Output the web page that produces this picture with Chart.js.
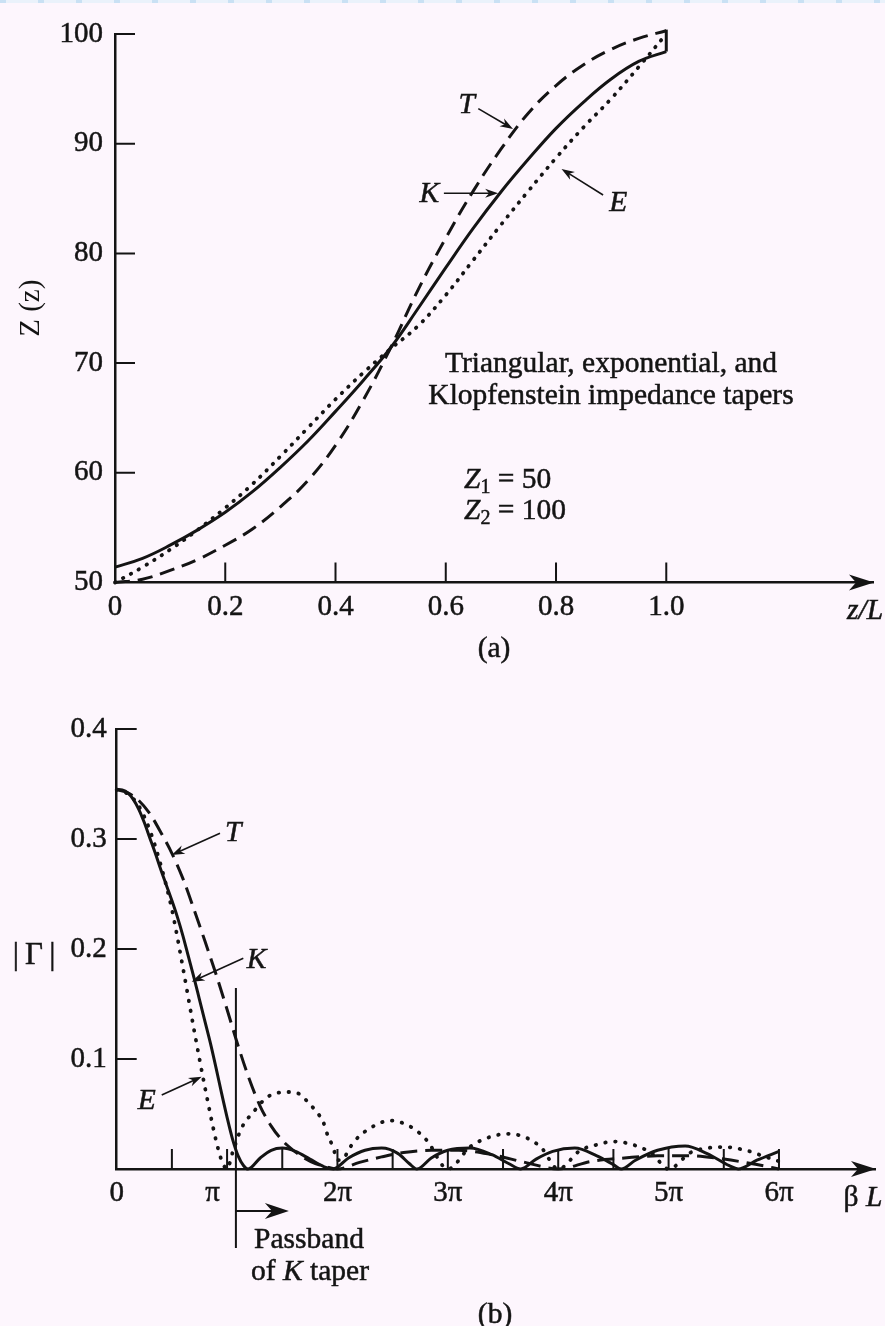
<!DOCTYPE html>
<html><head><meta charset="utf-8">
<script src="https://cdn.jsdelivr.net/npm/chart.js@4.4.0/dist/chart.umd.min.js"></script>
<style>
html,body{margin:0;padding:0;background:#fdf6fd;}
body{width:885px;height:1326px;position:relative;overflow:hidden;}
#topbar{position:absolute;left:0;top:0;width:885px;height:3px;background:repeating-linear-gradient(90deg,#c9e1f4 0 6px,#eaf2fb 6px 38px);}
#c1{position:absolute;left:0;top:0;}
#c2{position:absolute;left:0;top:690px;}
</style></head><body>
<div id="topbar"></div>
<canvas id="c1" width="885" height="690"></canvas>
<canvas id="c2" width="885" height="636"></canvas>
<script>
// ---------- (a) impedance tapers: Z(z) versus z/L ----------
const aKz   = [0, 0.05, 0.1, 0.15, 0.2, 0.25, 0.3, 0.35, 0.4, 0.45, 0.5, 0.55, 0.6, 0.65, 0.7, 0.75, 0.8, 0.85, 0.9, 0.95, 1.0];
const aKval = [51.4, 52.2, 53.4, 54.8, 56.4, 58.3, 60.5, 62.9, 65.6, 68.4, 71.4, 75.0, 78.7, 82.3, 85.6, 88.6, 91.4, 93.8, 95.9, 97.5, 98.4];
const aTz   = [0, 0.05, 0.1, 0.15, 0.2, 0.25, 0.3, 0.35, 0.4, 0.45, 0.5, 0.55, 0.6, 0.65, 0.7, 0.75, 0.8, 0.85, 0.9, 0.95, 1.0];
const aTval = [50.0, 50.3, 51.1, 52.1, 53.4, 54.9, 56.9, 59.3, 62.5, 66.6, 71.4, 76.7, 81.4, 85.7, 89.5, 92.8, 95.3, 97.2, 98.6, 99.6, 100.3];
const aEz   = [0, 0.05, 0.1, 0.15, 0.2, 0.25, 0.3, 0.35, 0.4, 0.45, 0.5, 0.55, 0.6, 0.65, 0.7, 0.75, 0.8, 0.85, 0.9, 0.95, 1.0];
const aEval = [50.0, 51.4, 53.0, 54.8, 56.8, 59.0, 61.5, 64.1, 66.7, 69.1, 71.3, 73.4, 76.2, 79.4, 82.6, 85.7, 88.7, 91.5, 94.1, 97.0, 100.0];
const aKstepZ   = [1.0, 1.0];
const aKstepVal = [98.4, 100.4];
const aXticks  = [0, 0.2, 0.4, 0.6, 0.8, 1.0];
const aXlabels = ['0', '0.2', '0.4', '0.6', '0.8', '1.0'];
const aYticks  = [50, 60, 70, 80, 90, 100];
const aYlabels = ['50', '60', '70', '80', '90', '100'];

// ---------- (b) |Gamma| versus beta*L (in units of pi) ----------
const bKx   = [0, 0.05, 0.1, 0.15, 0.2, 0.25, 0.3, 0.35, 0.4, 0.45, 0.5, 0.55, 0.6, 0.65, 0.7, 0.75, 0.8, 0.85, 0.9, 0.95, 1.0, 1.05, 1.1, 1.15, 1.19, 1.3, 1.4, 1.5, 1.62, 1.75, 1.88, 1.96, 2.1, 2.25, 2.4, 2.55, 2.65, 2.72, 2.85, 3.0, 3.2, 3.4, 3.55, 3.66, 3.8, 3.95, 4.15, 4.35, 4.5, 4.57, 4.7, 4.9, 5.15, 5.35, 5.55, 5.63, 5.8, 6.0];
const bKval = [0.345, 0.3445, 0.342, 0.336, 0.327, 0.315, 0.301, 0.287, 0.272, 0.258, 0.244, 0.229, 0.212, 0.193, 0.174, 0.154, 0.134, 0.114, 0.092, 0.069, 0.047, 0.027, 0.012, 0.003, 0.0, 0.010, 0.017, 0.019, 0.016, 0.009, 0.002, 0.0, 0.010, 0.017, 0.019, 0.014, 0.005, 0.0, 0.010, 0.017, 0.019, 0.013, 0.005, 0.0, 0.009, 0.016, 0.019, 0.012, 0.004, 0.0, 0.008, 0.017, 0.021, 0.014, 0.003, 0.0, 0.008, 0.016];
const bTx   = [0, 0.1, 0.2, 0.3, 0.4, 0.5, 0.6, 0.7, 0.8, 0.9, 1.0, 1.1, 1.2, 1.3, 1.4, 1.5, 1.6, 1.7, 1.8, 1.9, 2.0, 2.2, 2.4, 2.6, 2.85, 3.1, 3.4, 3.7, 4.0, 4.3, 4.6, 4.9, 5.2, 5.5, 5.8, 6.0];
const bTval = [0.345, 0.342, 0.335, 0.323, 0.306, 0.287, 0.264, 0.236, 0.207, 0.177, 0.145, 0.112, 0.082, 0.057, 0.039, 0.026, 0.017, 0.010, 0.005, 0.002, 0.0, 0.006, 0.011, 0.015, 0.017, 0.017, 0.013, 0.006, 0.0, 0.007, 0.010, 0.012, 0.012, 0.009, 0.004, 0.0];
const bEx   = [0, 0.1, 0.2, 0.3, 0.4, 0.5, 0.6, 0.7, 0.8, 0.9, 0.95, 1.0, 1.05, 1.13, 1.24, 1.36, 1.45, 1.55, 1.66, 1.73, 1.81, 1.87, 1.91, 1.96, 2.0, 2.05, 2.11, 2.16, 2.31, 2.48, 2.67, 2.81, 3.0, 3.2, 3.35, 3.54, 3.72, 3.85, 4.0, 4.2, 4.35, 4.5, 4.68, 4.85, 5.0, 5.2, 5.35, 5.5, 5.7, 5.85, 6.0];
const bEval = [0.345, 0.341, 0.330, 0.308, 0.276, 0.236, 0.183, 0.127, 0.074, 0.026, 0.008, 0.0, 0.015, 0.037, 0.052, 0.065, 0.069, 0.070, 0.068, 0.061, 0.052, 0.043, 0.031, 0.020, 0.008, 0.009, 0.019, 0.026, 0.038, 0.044, 0.038, 0.026, 0.0, 0.020, 0.028, 0.032, 0.028, 0.019, 0.0, 0.017, 0.022, 0.025, 0.022, 0.014, 0.0, 0.015, 0.019, 0.020, 0.017, 0.012, 0.007];
const bXticks  = [0, 1, 2, 3, 4, 5, 6];
const bXlabels = ['0', 'π\u2003', '2π', '3π', '4π', '5π', '6π'];
const bXminor  = [0.5, 1, 1.5, 2, 2.5, 3, 3.5, 4, 4.5, 5, 5.5, 6];
const bYticks  = [0, 0.1, 0.2, 0.3, 0.4];
const bYlabels = ['', '0.1', '0.2', '0.3', '0.4'];
const bPassband = 1.08;

const INK = '#141414';
const FONT = '"Liberation Serif", "Times New Roman", serif';
const TXT = 29.5;
const xy = (xs, ys) => xs.map((x, i) => ({x: x, y: ys[i]}));

function setFont(ctx, size, italic) { ctx.font = (italic ? 'italic ' : '') + size + 'px ' + FONT; }
function runs(ctx, parts, x, y, align, size) {
  const big = size || TXT, small = Math.round(big * 0.68);
  let total = 0;
  parts.forEach(p => { setFont(ctx, p.sub ? small : big, p.it); p.w = ctx.measureText(p.t).width; total += p.w; });
  let cx = align === 'left' ? x : x - total / 2;
  ctx.textAlign = 'left'; ctx.textBaseline = 'middle'; ctx.fillStyle = INK; ctx.strokeStyle = INK; ctx.lineWidth = 0.5;
  parts.forEach(p => {
    setFont(ctx, p.sub ? small : big, p.it);
    const yy = y + (p.sub ? 8 : 0);
    ctx.fillText(p.t, cx, yy); ctx.strokeText(p.t, cx, yy); cx += p.w;
  });
}
function arrow(ctx, x1, y1, x2, y2, len, hw, lw) {
  const ang = Math.atan2(y2 - y1, x2 - x1);
  ctx.save(); ctx.strokeStyle = INK; ctx.fillStyle = INK; ctx.lineWidth = lw;
  ctx.beginPath(); ctx.moveTo(x1, y1);
  ctx.lineTo(x2 - Math.cos(ang) * len * 0.6, y2 - Math.sin(ang) * len * 0.6); ctx.stroke();
  ctx.translate(x2, y2); ctx.rotate(ang);
  ctx.beginPath(); ctx.moveTo(0, 0); ctx.lineTo(-len, -hw); ctx.lineTo(-len * 0.7, 0); ctx.lineTo(-len, hw); ctx.closePath(); ctx.fill();
  ctx.restore();
}
function inwardTicks(chart, xv, yv, len) {
  const {ctx, chartArea: a, scales: {x, y}} = chart;
  ctx.save(); ctx.strokeStyle = INK; ctx.lineWidth = 2; ctx.beginPath();
  xv.forEach(v => { const p = x.getPixelForValue(v); ctx.moveTo(p, a.bottom); ctx.lineTo(p, a.bottom - len); });
  yv.forEach(v => { const p = y.getPixelForValue(v); ctx.moveTo(a.left, p); ctx.lineTo(a.left + len, p); });
  ctx.stroke(); ctx.restore();
}
function axisHead(chart) {
  const {ctx, chartArea: a} = chart;
  ctx.save(); ctx.fillStyle = INK; ctx.beginPath();
  ctx.moveTo(a.right + 1, a.bottom); ctx.lineTo(a.right - 24, a.bottom - 8); ctx.lineTo(a.right - 17, a.bottom);
  ctx.lineTo(a.right - 24, a.bottom + 8); ctx.closePath(); ctx.fill(); ctx.restore();
}

function scaleCfg(min, max, ticks, labels, pad, fitFn, extra) {
  return Object.assign({
    type: 'linear', min: min, max: max,
    grid: {display: false, drawTicks: false},
    border: {display: true, color: INK, width: 2.5},
    afterBuildTicks: s => { s.ticks = ticks.map(v => ({value: v})); },
    afterFit: fitFn,
    ticks: {
      autoSkip: false, maxRotation: 0, minRotation: 0, padding: pad, color: INK,
      textStrokeColor: INK, textStrokeWidth: 0.5,
      font: {family: FONT, size: 29},
      callback: (v) => { const i = ticks.findIndex(t => Math.abs(t - v) < 1e-9); return i >= 0 ? labels[i] : ''; }
    }
  }, extra || {});
}

// ---------- chart (a) ----------
const pluginA = {
  id: 'annA',
  beforeDatasetsDraw(chart) { inwardTicks(chart, aXticks.slice(1), aYticks.slice(1), 20); },
  afterDraw(chart) {
    const {ctx, chartArea: a, scales: {x, y}} = chart;
    const P = (zx, zy) => [x.getPixelForValue(zx), y.getPixelForValue(zy)];
    axisHead(chart);
    ctx.save();
    runs(ctx, [{t: 'z/L', it: true}], a.right - 8, a.bottom + 29);
    let p = P(0.638, 93.5); runs(ctx, [{t: 'T', it: true}], p[0], p[1]);
    let f = P(0.659, 93.2), t = P(0.722, 91.35); arrow(ctx, f[0], f[1], t[0], t[1], 13, 4.5, 1.6);
    p = P(0.570, 85.4); runs(ctx, [{t: 'K', it: true}], p[0], p[1]);
    f = P(0.5966, 85.48); t = P(0.695, 85.48); arrow(ctx, f[0], f[1], t[0], t[1], 13, 4.5, 1.6);
    p = P(0.9127, 84.6); runs(ctx, [{t: 'E', it: true}], p[0], p[1]);
    f = P(0.8854, 85.32); t = P(0.81, 87.69); arrow(ctx, f[0], f[1], t[0], t[1], 13, 4.5, 1.6);
    runs(ctx, [{t: 'Triangular, exponential, and'}], 611, 364);
    runs(ctx, [{t: 'Klopfenstein impedance tapers'}], 611, 396);
    runs(ctx, [{t: 'Z', it: true}, {t: '1', sub: true}, {t: ' = 50'}], 464, 480, 'left');
    runs(ctx, [{t: 'Z', it: true}, {t: '2', sub: true}, {t: ' = 100'}], 464, 511, 'left');
    runs(ctx, [{t: '(a)'}], 494, 649);
    ctx.restore();
  }
};

new Chart(document.getElementById('c1'), {
  type: 'line',
  data: {datasets: [
    {data: xy(aKz, aKval), borderWidth: 3},
    {data: xy(aTz, aTval), borderWidth: 3, borderDash: [15, 8]},
    {data: xy(aEz, aEval), borderWidth: 3.8, borderDash: [0.5, 8.5], borderCapStyle: 'round'},
    {data: xy(aKstepZ, aKstepVal), borderWidth: 3, tension: 0}
  ].map(d => Object.assign({borderColor: INK, pointRadius: 0, fill: false, clip: false, tension: 0.4}, d))},
  options: {
    responsive: false, animation: false, devicePixelRatio: 1,
    layout: {padding: {left: 0, top: 34, right: 12, bottom: 0}},
    plugins: {legend: {display: false}, tooltip: {enabled: false}},
    scales: {
      x: scaleCfg(0, 1.375, aXticks, aXlabels, 7, s => { s.height = 107.5; }),
      y: scaleCfg(50, 100, aYticks, aYlabels, 12, s => { s.width = 115; },
        {title: {display: true, text: 'Z (z)', color: INK, font: {family: FONT, size: 29}, padding: {top: 14, bottom: 0}}})
    }
  },
  plugins: [pluginA]
});

// ---------- chart (b) ----------
const pluginB = {
  id: 'annB',
  beforeDatasetsDraw(chart) { inwardTicks(chart, bXminor, bYticks.slice(1), 20); },
  afterDraw(chart) {
    const {ctx, chartArea: a, scales: {x, y}} = chart;
    const P = (bx, by) => [x.getPixelForValue(bx), y.getPixelForValue(by)];
    axisHead(chart);
    ctx.save();
    runs(ctx, [{t: 'β'}, {t: ' L', it: true}], a.right - 12, a.bottom + 29);
    runs(ctx, [{t: '|\u2009Γ\u2009|'}], 34, 266, 'center', 31);
    let p = P(1.056, 0.3055); runs(ctx, [{t: 'T', it: true}], p[0], p[1]);
    let f = P(0.936, 0.3052), t = P(0.498, 0.2855); arrow(ctx, f[0], f[1], t[0], t[1], 13, 4.5, 1.6);
    p = P(1.268, 0.190); runs(ctx, [{t: 'K', it: true}], p[0], p[1]);
    f = P(1.147, 0.1915); t = P(0.679, 0.1703); arrow(ctx, f[0], f[1], t[0], t[1], 13, 4.5, 1.6);
    p = P(0.272, 0.0612); runs(ctx, [{t: 'E', it: true}], p[0], p[1]);
    f = P(0.408, 0.0673); t = P(0.77, 0.0839); arrow(ctx, f[0], f[1], t[0], t[1], 13, 4.5, 1.6);
    const top = P(bPassband, 0.1645), bot = P(bPassband, -0.0718);
    ctx.strokeStyle = INK; ctx.lineWidth = 2;
    ctx.beginPath(); ctx.moveTo(top[0], top[1]); ctx.lineTo(bot[0], bot[1]); ctx.stroke();
    f = P(bPassband, -0.0382); t = P(1.56, -0.0382); arrow(ctx, f[0], f[1], t[0], t[1], 24, 8, 2);
    runs(ctx, [{t: 'Passband'}], 309, 550);
    runs(ctx, [{t: 'of '}, {t: 'K', it: true}, {t: ' taper'}], 310, 582);
    runs(ctx, [{t: '(b)'}], 495, 625);
    ctx.restore();
  }
};

new Chart(document.getElementById('c2'), {
  type: 'line',
  data: {datasets: [
    {data: xy(bKx, bKval), borderWidth: 3},
    {data: xy(bTx, bTval), borderWidth: 3, borderDash: [17, 8]},
    {data: xy(bEx, bEval), borderWidth: 3.8, borderDash: [0.5, 9.5], borderCapStyle: 'round'}
  ].map(d => Object.assign({borderColor: INK, pointRadius: 0, fill: false, clip: false, cubicInterpolationMode: 'monotone'}, d))},
  options: {
    responsive: false, animation: false, devicePixelRatio: 1,
    layout: {padding: {left: 0, top: 39, right: 10, bottom: 0}},
    plugins: {legend: {display: false}, tooltip: {enabled: false}},
    scales: {
      x: scaleCfg(0, 6.87, bXticks, bXlabels, 7, s => { s.height = 157; }),
      y: scaleCfg(0, 0.4, bYticks, bYlabels, 10, s => { s.width = 116.7; })
    }
  },
  plugins: [pluginB]
});
</script>
</body></html>
